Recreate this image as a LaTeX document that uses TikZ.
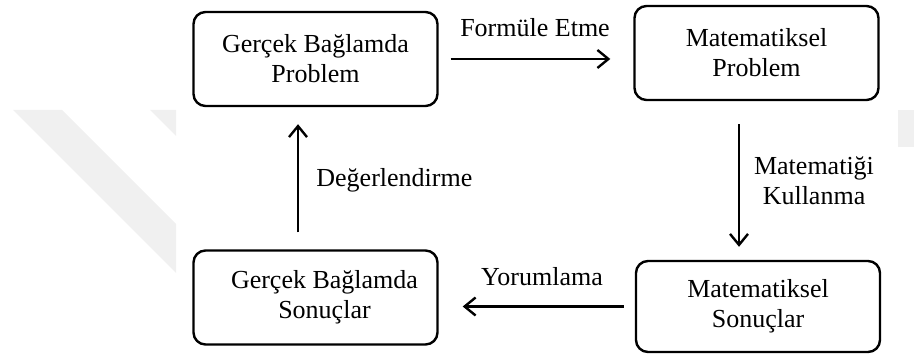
\documentclass[tikz,border=0pt]{standalone}
\usepackage{fontspec}
\setmainfont{Liberation Serif}
\usetikzlibrary{arrows.meta}
\begin{document}
\begin{tikzpicture}[x=0.5pt,y=-0.5pt,
  txt/.style={font=\fontsize{13}{15}\selectfont, inner sep=0pt, align=center},
  stage/.style={txt, draw, line width=1.2pt, rounded corners=6pt,
                minimum width=122pt, minimum height=47pt},
  flow/.style={line width=1.2pt,
               -{Straight Barb[length=5.5pt,width=9pt,line width=1.2pt]}},
  faint/.style={fill=black!6, draw=none}
]
\useasboundingbox (0,0) rectangle (914,356);

% faded background emblem
\fill[faint] (13,110) -- (62,110) -- (176,224) -- (176,273) -- cycle;
\fill[faint] (150,110) -- (176,110) -- (176,136) -- cycle;
\fill[faint] (898,110) rectangle (914,147);

% the four stages of the cycle
\node[stage] (tl) at (315.5,59) {Gerçek Bağlamda\\Problem};
\node[stage] (tr) at (756.5,53) {Matematiksel\\Problem};
\node[stage] (bl) at (315.5,297.5)
  [label={[txt, xshift=4.5pt]center:{Gerçek Bağlamda\\Sonuçlar}}] {};
\node[stage, minimum height=45.5pt] (br) at (758,306.5) {Matematiksel\\Sonuçlar};

% transitions
\draw[flow, shorten <=6pt, shorten >=11.5pt] (tl.east) -- (tl.east -| tr.west);
\draw[flow, shorten <=11.5pt, shorten >=6.5pt]
  ([xshift=-8.75pt]tr.south) -- ([xshift=-8.75pt]tr.south |- br.north);
\draw[flow, shorten <=5.5pt, shorten >=12pt] (br.west) -- (br.west -| bl.east);
\draw[flow, shorten <=8.5pt, shorten >=8.5pt]
  ([xshift=-8.75pt]bl.north) -- ([xshift=-8.75pt]bl.north |- tl.south);

% transition labels
\node[txt, anchor=base] (f) at (535,37) {Formüle Etme};
\node[txt] (k) at (814,181) {Matematiği\\Kullanma};
\node[txt, anchor=base] (y) at (542,286) {Yorumlama};
\node[txt, anchor=base west] (d) at (316,187) {Değerlendirme};
\end{tikzpicture}
\end{document}
